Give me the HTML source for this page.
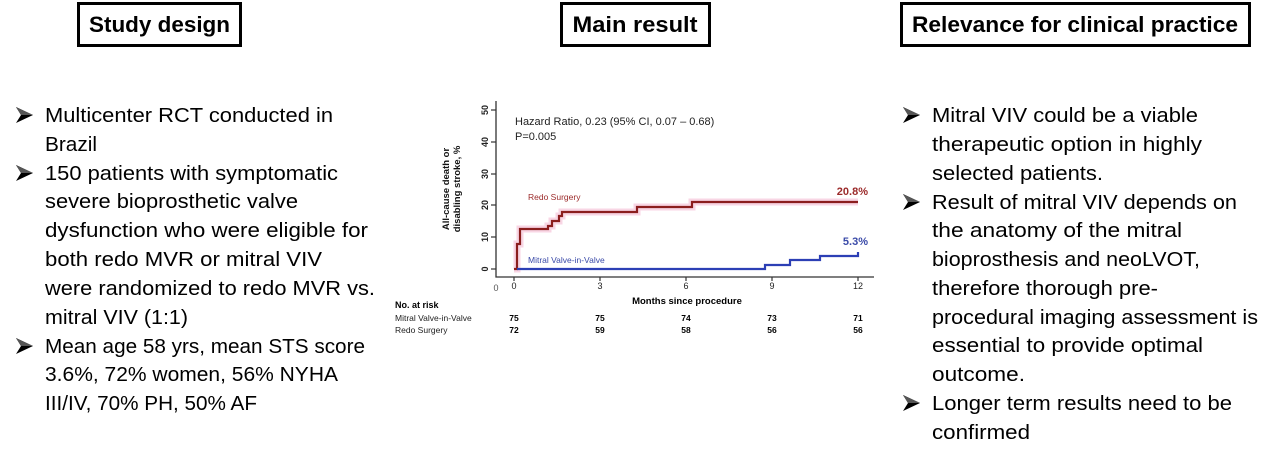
<!DOCTYPE html>
<html><head><meta charset="utf-8"><style>
html,body{margin:0;padding:0;background:#fff;width:1278px;height:460px;overflow:hidden}
svg{display:block}
</style></head><body>
<svg width="1278" height="460" viewBox="0 0 1278 460" xmlns="http://www.w3.org/2000/svg" font-family="Liberation Sans, Arial, sans-serif">
<defs>
<g id="bul"><polygon points="0,-8 17,0 0,8 5,0" fill="#000"/><polygon points="0,-8 17,0 5,0" fill="#555"/></g>
</defs>
<!-- headers -->
<rect x="78.5" y="3.5" width="162" height="42" fill="#fff" stroke="#000" stroke-width="3"/>
<text x="159.5" y="32" text-anchor="middle" font-size="22" font-weight="bold" textLength="141" lengthAdjust="spacingAndGlyphs">Study design</text>
<rect x="561.5" y="3.5" width="148" height="42" fill="#fff" stroke="#000" stroke-width="3"/>
<text x="635" y="32" text-anchor="middle" font-size="22" font-weight="bold" textLength="125" lengthAdjust="spacingAndGlyphs">Main result</text>
<rect x="901.5" y="3.5" width="348" height="42" fill="#fff" stroke="#000" stroke-width="3"/>
<text x="1075" y="32" text-anchor="middle" font-size="22" font-weight="bold" textLength="326" lengthAdjust="spacingAndGlyphs">Relevance for clinical practice</text>

<!-- left column -->
<use href="#bul" x="16" y="115"/>
<use href="#bul" x="16" y="173"/>
<use href="#bul" x="16" y="346"/>
<g font-size="20" fill="#000">
<text x="45" y="122" textLength="288" lengthAdjust="spacingAndGlyphs">Multicenter RCT conducted in</text>
<text x="45" y="151" textLength="52" lengthAdjust="spacingAndGlyphs">Brazil</text>
<text x="45" y="180" textLength="293" lengthAdjust="spacingAndGlyphs">150 patients with symptomatic</text>
<text x="45" y="208" textLength="253" lengthAdjust="spacingAndGlyphs">severe bioprosthetic valve</text>
<text x="45" y="237" textLength="323" lengthAdjust="spacingAndGlyphs">dysfunction who were eligible for</text>
<text x="45" y="266" textLength="277" lengthAdjust="spacingAndGlyphs">both redo MVR or mitral VIV</text>
<text x="45" y="295" textLength="330" lengthAdjust="spacingAndGlyphs">were randomized to redo MVR vs.</text>
<text x="45" y="324" textLength="143" lengthAdjust="spacingAndGlyphs">mitral VIV (1:1)</text>
<text x="45" y="353" textLength="320" lengthAdjust="spacingAndGlyphs">Mean age 58 yrs, mean STS score</text>
<text x="45" y="381" textLength="293" lengthAdjust="spacingAndGlyphs">3.6%, 72% women, 56% NYHA</text>
<text x="45" y="410" textLength="212" lengthAdjust="spacingAndGlyphs">III/IV, 70% PH, 50% AF</text>
</g>

<!-- right column -->
<use href="#bul" x="903" y="115"/>
<use href="#bul" x="903" y="202"/>
<use href="#bul" x="903" y="403"/>
<g font-size="20" fill="#000">
<text x="932" y="122" textLength="266" lengthAdjust="spacingAndGlyphs">Mitral VIV could be a viable</text>
<text x="932" y="151" textLength="270" lengthAdjust="spacingAndGlyphs">therapeutic option in highly</text>
<text x="932" y="180" textLength="171" lengthAdjust="spacingAndGlyphs">selected patients.</text>
<text x="932" y="209" textLength="305" lengthAdjust="spacingAndGlyphs">Result of mitral VIV depends on</text>
<text x="932" y="237" textLength="250" lengthAdjust="spacingAndGlyphs">the anatomy of the mitral</text>
<text x="932" y="266" textLength="268" lengthAdjust="spacingAndGlyphs">bioprosthesis and neoLVOT,</text>
<text x="932" y="295" textLength="226" lengthAdjust="spacingAndGlyphs">therefore thorough pre-</text>
<text x="932" y="324" textLength="326" lengthAdjust="spacingAndGlyphs">procedural imaging assessment is</text>
<text x="932" y="352" textLength="271" lengthAdjust="spacingAndGlyphs">essential to provide optimal</text>
<text x="932" y="381" textLength="93" lengthAdjust="spacingAndGlyphs">outcome.</text>
<text x="932" y="410" textLength="300" lengthAdjust="spacingAndGlyphs">Longer term results need to be</text>
<text x="932" y="439" textLength="98" lengthAdjust="spacingAndGlyphs">confirmed</text>
</g>

<!-- chart -->
<g>
<path d="M496 101 V277 H874" fill="none" stroke="#333" stroke-width="1.3"/>
<g stroke="#333" stroke-width="1.2">
<line x1="491" y1="110" x2="496" y2="110"/><line x1="491" y1="142" x2="496" y2="142"/><line x1="491" y1="174" x2="496" y2="174"/><line x1="491" y1="205" x2="496" y2="205"/><line x1="491" y1="237" x2="496" y2="237"/><line x1="491" y1="269" x2="496" y2="269"/>
<line x1="514" y1="277" x2="514" y2="281"/><line x1="600" y1="277" x2="600" y2="281"/><line x1="686" y1="277" x2="686" y2="281"/><line x1="772" y1="277" x2="772" y2="281"/><line x1="858" y1="277" x2="858" y2="281"/>
</g>
<g font-size="9" font-weight="bold" fill="#222" text-anchor="middle">
<text transform="translate(485,110) rotate(-90)" dy="3">50</text>
<text transform="translate(485,142) rotate(-90)" dy="3">40</text>
<text transform="translate(485,174) rotate(-90)" dy="3">30</text>
<text transform="translate(485,205) rotate(-90)" dy="3">20</text>
<text transform="translate(485,237) rotate(-90)" dy="3">10</text>
<text transform="translate(485,269) rotate(-90)" dy="3">0</text>
</g>
<g font-size="9.5" font-weight="bold" fill="#111" text-anchor="middle">
<text transform="translate(449,189) rotate(-90)">All-cause death or</text>
<text transform="translate(460,189) rotate(-90)">disabling stroke, %</text>
</g>
<g font-size="9" fill="#222" text-anchor="middle">
<text x="496" y="291" fill="#555">0</text>
<text x="514" y="289">0</text><text x="600" y="289">3</text><text x="686" y="289">6</text><text x="772" y="289">9</text><text x="858" y="289">12</text>
</g>
<text x="687" y="304" font-size="9.5" font-weight="bold" text-anchor="middle">Months since procedure</text>
<text x="515" y="125" font-size="11" fill="#222">Hazard Ratio, 0.23 (95% CI, 0.07 – 0.68)</text>
<text x="515" y="140" font-size="11" fill="#222">P=0.005</text>
<text x="528" y="200" font-size="8.5" fill="#9b2a2a">Redo Surgery</text>
<text x="528" y="263" font-size="8.5" fill="#3a4aa8">Mitral Valve-in-Valve</text>
<text x="868" y="195" font-size="11" font-weight="bold" fill="#9b2a2a" text-anchor="end">20.8%</text>
<text x="868" y="245" font-size="11" font-weight="bold" fill="#3a4aa8" text-anchor="end">5.3%</text>
<path d="M514 269 H517 V244 H520 V229 H548 V226 H552 V221 H559 V216 H562 V212 H637 V207 H692 V202 H858" fill="none" stroke="#f8d6e4" stroke-width="7" stroke-linejoin="miter"/>
<path d="M514 269 H517 V244 H520 V229 H548 V226 H552 V221 H559 V216 H562 V212 H637 V207 H692 V202 H858" fill="none" stroke="#8b1e1e" stroke-width="2.2"/>
<path d="M517 269 H765 V265 H790 V260 H820 V256 H858 V252" fill="none" stroke="#2c3fb5" stroke-width="2.2"/>
<text x="395" y="308" font-size="9" font-weight="bold">No. at risk</text>
<text x="395" y="321" font-size="8.5" fill="#222">Mitral Valve-in-Valve</text>
<text x="395" y="333" font-size="8.5" fill="#222">Redo Surgery</text>
<g font-size="8.5" font-weight="bold" text-anchor="middle">
<text x="514" y="321">75</text><text x="600" y="321">75</text><text x="686" y="321">74</text><text x="772" y="321">73</text><text x="858" y="321">71</text>
<text x="514" y="333">72</text><text x="600" y="333">59</text><text x="686" y="333">58</text><text x="772" y="333">56</text><text x="858" y="333">56</text>
</g>
</g>
</svg>
</body></html>
